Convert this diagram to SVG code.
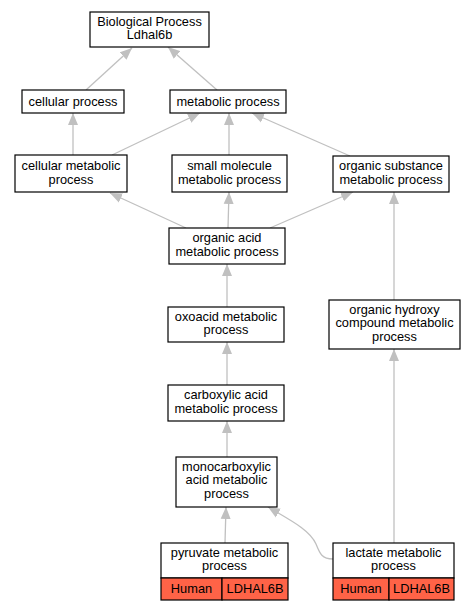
<svg xmlns="http://www.w3.org/2000/svg" width="476" height="611" viewBox="0 0 476 611">
<style>
.n{fill:#fff;stroke:#000;stroke-width:1.2}
.r{fill:#ff6347;stroke:#000;stroke-width:1.2}
text{font-family:"Liberation Sans",Arial,sans-serif;font-size:12.8px;text-anchor:middle;fill:#000}
.e{fill:none;stroke:#c0c0c0;stroke-width:1.3}
</style>
<defs>
<marker id="a" markerUnits="userSpaceOnUse" markerWidth="13" markerHeight="11" viewBox="0 0 13 11" refX="12" refY="5.5" orient="auto">
<path d="M0,0.5 L12,5.5 L0,10.5 Z" fill="#c0c0c0"/>
</marker>
</defs>
<rect width="476" height="611" fill="#fff"/>
<g id="edges">
<line class="e" x1="86" y1="90" x2="132" y2="48" marker-end="url(#a)"/>
<line class="e" x1="217" y1="90" x2="168" y2="47" marker-end="url(#a)"/>
<line class="e" x1="73" y1="155" x2="73" y2="113" marker-end="url(#a)"/>
<line class="e" x1="112" y1="155" x2="200" y2="113" marker-end="url(#a)"/>
<line class="e" x1="229" y1="155" x2="229" y2="113" marker-end="url(#a)"/>
<line class="e" x1="350" y1="156" x2="252" y2="113" marker-end="url(#a)"/>
<line class="e" x1="186" y1="228" x2="110" y2="193" marker-end="url(#a)"/>
<line class="e" x1="228" y1="228" x2="229" y2="192" marker-end="url(#a)"/>
<line class="e" x1="270" y1="228" x2="353" y2="192" marker-end="url(#a)"/>
<line class="e" x1="227" y1="307" x2="227" y2="264" marker-end="url(#a)"/>
<line class="e" x1="394" y1="300" x2="394" y2="192" marker-end="url(#a)"/>
<line class="e" x1="227" y1="385" x2="227" y2="342" marker-end="url(#a)"/>
<line class="e" x1="227" y1="457" x2="227" y2="421" marker-end="url(#a)"/>
<line class="e" x1="225" y1="543" x2="226" y2="507" marker-end="url(#a)"/>
<line class="e" x1="394" y1="543" x2="394" y2="349" marker-end="url(#a)"/>
<path class="e" d="M333,559 C322,559 320,554 316,544 C310,530 290,520 268,507" marker-end="url(#a)"/>
</g>
<g id="bp"><rect class="n" x="90" y="12" width="119" height="35"/><text x="149.5" y="26">Biological Process</text><text x="149.5" y="39">Ldhal6b</text></g>
<g id="cellular_process"><rect class="n" x="22" y="90" width="102" height="23"/><text x="73" y="106">cellular process</text></g>
<g id="metabolic_process"><rect class="n" x="170" y="90" width="116" height="23"/><text x="228" y="106">metabolic process</text></g>
<g id="cellular_metabolic"><rect class="n" x="15" y="155" width="112" height="37"/><text x="71" y="170">cellular metabolic</text><text x="71" y="184">process</text></g>
<g id="small_molecule"><rect class="n" x="172" y="155" width="115" height="37"/><text x="229.5" y="170">small molecule</text><text x="229.5" y="184">metabolic process</text></g>
<g id="organic_substance"><rect class="n" x="333" y="156" width="116" height="36"/><text x="391" y="170">organic substance</text><text x="391" y="184">metabolic process</text></g>
<g id="organic_acid"><rect class="n" x="169" y="228" width="116" height="36"/><text x="227" y="242">organic acid</text><text x="227" y="256">metabolic process</text></g>
<g id="oxoacid"><rect class="n" x="168" y="307" width="116" height="35"/><text x="226" y="321">oxoacid metabolic</text><text x="226" y="334">process</text></g>
<g id="organic_hydroxy"><rect class="n" x="329" y="300" width="131" height="49"/><text x="394.5" y="314">organic hydroxy</text><text x="394.5" y="327">compound metabolic</text><text x="394.5" y="341">process</text></g>
<g id="carboxylic"><rect class="n" x="168" y="385" width="116" height="36"/><text x="226" y="399">carboxylic acid</text><text x="226" y="413">metabolic process</text></g>
<g id="monocarboxylic"><rect class="n" x="176" y="457" width="101" height="50"/><text x="226.5" y="471">monocarboxylic</text><text x="226.5" y="484">acid metabolic</text><text x="226.5" y="498">process</text></g>
<g id="pyruvate"><rect class="n" x="161" y="543" width="127" height="35"/><rect class="r" x="161" y="578" width="61" height="22"/><rect class="r" x="222" y="578" width="66" height="22"/><text x="224.5" y="557">pyruvate metabolic</text><text x="224.5" y="570">process</text><text x="191.5" y="593">Human</text><text x="255" y="593">LDHAL6B</text></g>
<g id="lactate"><rect class="n" x="333" y="543" width="121" height="35"/><rect class="r" x="333" y="578" width="56" height="22"/><rect class="r" x="389" y="578" width="65" height="22"/><text x="393.5" y="557">lactate metabolic</text><text x="393.5" y="570">process</text><text x="361" y="593">Human</text><text x="421.5" y="593">LDHAL6B</text></g>
</svg>
